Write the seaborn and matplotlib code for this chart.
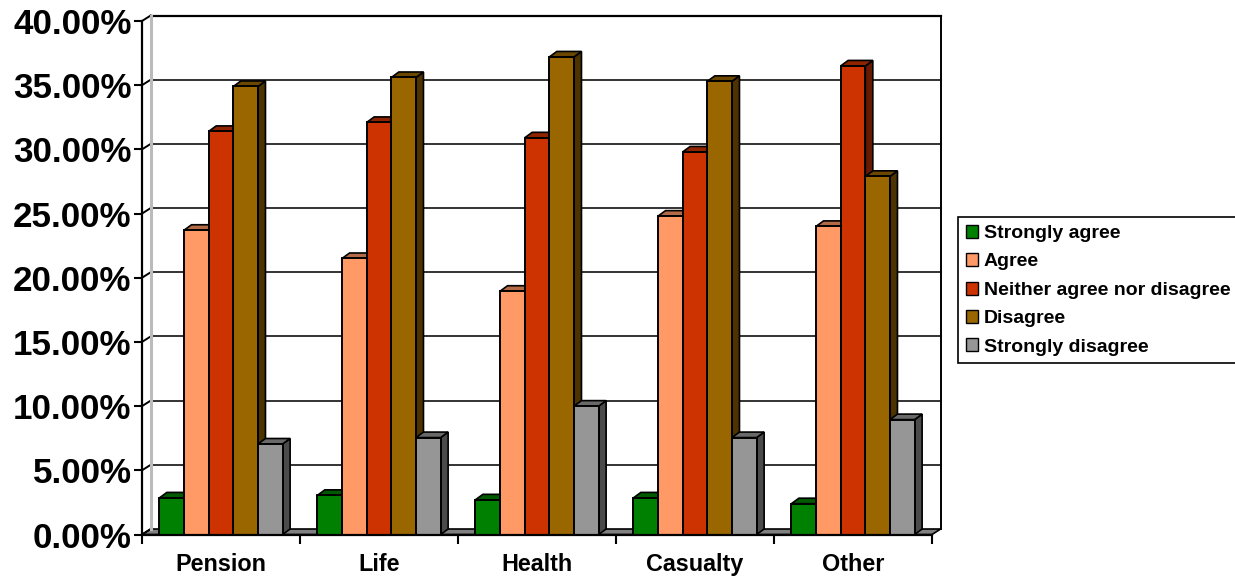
import pandas as pd
import matplotlib
matplotlib.use("Agg")
import matplotlib.pyplot as plt
from matplotlib.patches import Polygon
from matplotlib.colors import to_rgb
import seaborn as sns

# -------------------------------
# data
# -------------------------------
sectors = ["Pension", "Life", "Health", "Casualty", "Other"]
answers = ["Strongly agree", "Agree", "Neither agree nor disagree", "Disagree", "Strongly disagree"]
strongly_agree = [2.85, 3.05, 2.7, 2.85, 2.4]
agree = [23.7, 21.5, 18.95, 24.8, 24.0]
neither = [31.4, 32.1, 30.9, 29.8, 36.5]
disagree = [34.9, 35.6, 37.2, 35.3, 27.9]
strongly_disagree = [7.05, 7.55, 10.0, 7.55, 8.95]
yticks = [0, 5, 10, 15, 20, 25, 30, 35, 40]
colors = ["#008000", "#FF9966", "#CC3300", "#996600", "#969696"]

rows = []
for answer, values in zip(answers, [strongly_agree, agree, neither, disagree, strongly_disagree]):
    for sector, value in zip(sectors, values):
        rows.append({"sector": sector, "answer": answer, "value": value})
df = pd.DataFrame(rows)

W, H = 1235, 577
fig = plt.figure(figsize=(W / 100, H / 100), dpi=100)
plt.rcParams["font.family"] = ["Liberation Sans", "DejaVu Sans"]
ax = fig.add_axes([142 / W, (H - 534.5) / H, 790 / W, 513.5 / H])

sns.barplot(data=df, x="sector", y="value", hue="answer", order=sectors, hue_order=answers,
            palette=colors, saturation=1, width=0.78, gap=0, edgecolor="black", linewidth=1.4,
            errorbar=None, ax=ax, zorder=5)
ax.set_xlim(-0.5, 4.5)
ax.set_ylim(0, 40)

# depth of the fake 3d box, in data units
dx = 8.7 / 158
dy = 5.5 / (513.5 / 40)
bar_dx = 7.5 / 158
bar_dy = 5.5 / (513.5 / 40)


def shade(color, f):
    return tuple(c * f for c in to_rgb(color))


# walls and floor
x0, x1 = -0.5, 4.5
ax.add_patch(Polygon([(x0, 0), (x1, 0), (x1 + dx, dy), (x0 + dx, dy)], closed=True, facecolor="#808080",
                     edgecolor="black", linewidth=1.2, clip_on=False, zorder=1))
for k in yticks[1:-1]:
    ax.plot([x0 + dx, x1 + dx], [k + dy, k + dy], color="#333333", lw=1.4, clip_on=False, zorder=1)
for k in yticks:
    ax.plot([x0, x0 + dx], [k, k + dy], color="black", lw=1.4, clip_on=False, zorder=1)
ax.plot([x0 + dx, x1 + dx], [40 + dy, 40 + dy], color="black", lw=1.6, clip_on=False, zorder=1)
ax.plot([x1 + dx, x1 + dx], [dy, 40 + dy], color="black", lw=1.4, clip_on=False, zorder=1)
ax.plot([x0 + dx, x0 + dx], [dy, 40 + dy], color="#bbbbbb", lw=2.2, clip_on=False, zorder=1)

# side and top faces, left bars first so the next bar covers them
for i, container in enumerate(ax.containers):
    col = colors[i]
    for bar in container:
        left = bar.get_x()
        right = left + bar.get_width()
        top = bar.get_height()
        z = 2 + 0.1 * i
        bar.set_zorder(2.05 + 0.1 * i)
        ax.add_patch(Polygon([(right, 0), (right + bar_dx, bar_dy), (right + bar_dx, top + bar_dy), (right, top)],
                             closed=True, facecolor=shade(col, 0.5), edgecolor="black", linewidth=1.2,
                             clip_on=False, zorder=z))
        ax.add_patch(Polygon([(left, top), (left + bar_dx, top + bar_dy), (right + bar_dx, top + bar_dy), (right, top)],
                             closed=True, facecolor=shade(col, 0.7), edgecolor="black", linewidth=1.2,
                             clip_on=False, zorder=z))

# axes
for s in ["top", "right"]:
    ax.spines[s].set_visible(False)
for s in ["left", "bottom"]:
    ax.spines[s].set_linewidth(1.6)
    ax.spines[s].set_zorder(4)
ax.set_axisbelow(False)
ax.set_xlabel("")
ax.set_ylabel("")
ax.set_yticks(yticks)
ax.set_yticklabels([f"{k:.2f}%" for k in yticks], fontsize=25.2, fontweight="bold", family="Liberation Sans")
ax.set_xticks([x - 0.5 for x in range(6)], minor=True)
ax.set_xticks(range(5))
ax.set_xticklabels(sectors, fontsize=16.8, fontweight="bold", family="Liberation Sans")
ax.tick_params(axis="x", which="major", length=0, pad=13)
ax.tick_params(axis="x", which="minor", length=6.5, width=1.5)
ax.tick_params(axis="y", length=5.5, width=1.5, pad=2)

# legend
handles, labels = ax.get_legend_handles_labels()
leg = ax.legend(handles, labels, loc="upper left", bbox_to_anchor=(958 / W, (H - 217) / H),
                bbox_transform=fig.transFigure, borderaxespad=0,
                prop={"family": "Liberation Sans", "weight": "bold", "size": 14},
                fancybox=False, framealpha=1, edgecolor="black", handlelength=0.65, handleheight=0.65,
                handletextpad=0.28, labelspacing=0.57, borderpad=0.4)
leg.get_frame().set_linewidth(1.2)
for h in leg.legend_handles:
    h.set_linewidth(1.0)

fig.savefig("out.png", dpi=100)
